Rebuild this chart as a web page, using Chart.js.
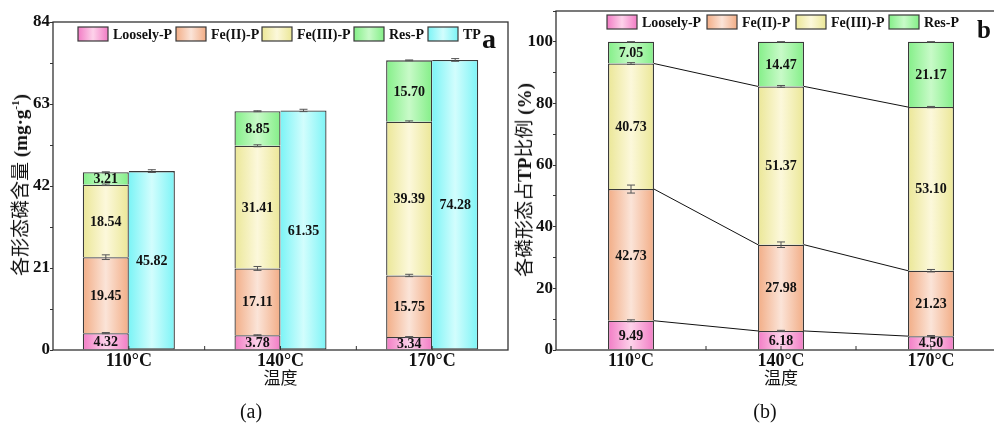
<!DOCTYPE html>
<html>
<head>
<meta charset="utf-8">
<script src="https://cdn.jsdelivr.net/npm/chart.js@4.4.1/dist/chart.umd.min.js"></script>
<style>
  html, body { margin: 0; padding: 0; background: #fff; overflow: hidden; width: 994px; height: 424px; position: relative; }
  canvas { position: absolute; top: 0; }
  #chartContent { left: 0; }
  #chartRatio { left: 500px; }
  .ytitle { position: absolute; transform: translate(-50%, -50%) rotate(-90deg); white-space: nowrap; font-size: 19px; color: #111; line-height: 22px; height: 22px; }
  .cjk { font-family: "Noto Sans CJK SC", sans-serif; font-weight: 400; }
  .ser { font-family: "Liberation Serif", serif; font-weight: 700; }
  .ser sup { font-size: 11px; vertical-align: baseline; position: relative; top: -8px; }
</style>
</head>
<body>
<canvas id="chartContent" width="545" height="424"></canvas>
<canvas id="chartRatio" width="510" height="424"></canvas>
<div class="ytitle" style="left:19px; top:185px;"><span class="cjk">各形态磷含量</span> <span class="ser">(mg·g<sup>-1</sup>)</span></div>
<div class="ytitle" style="left:523px; top:180px;"><span class="cjk">各磷形态占</span><span class="ser">TP</span><span class="cjk">比例</span> <span class="ser">(%)</span></div>
<script>
// ---- data ----
const temps = ['110°C', '140°C', '170°C'];

// phosphorus content by form (mg/g)
const looselyP = [4.32, 3.78, 3.34];
const fe2P = [19.45, 17.11, 15.75];
const fe3P = [18.54, 31.41, 39.39];
const resP = [3.21, 8.85, 15.70];
const totalP = [45.82, 61.35, 74.28];
const looselyErr = [0.15, 0.12, 0.1];
const fe2Err = [0.6, 0.5, 0.3];
const fe3Err = [0.2, 0.25, 0.2];
const resErr = [0.12, 0.12, 0.1];
const totalErr = [0.35, 0.3, 0.35];

// share of each form in TP (%)
const ratioLoosely = [9.49, 6.18, 4.50];
const ratioFe2 = [42.73, 27.98, 21.23];
const ratioFe3 = [40.73, 51.37, 53.10];
const ratioRes = [7.05, 14.47, 21.17];
const ratioLooselyErr = [0.3, 0.2, 0.2];
const ratioFe2Err = [1.3, 0.9, 0.4];
const ratioFe3Err = [0.3, 0.3, 0.2];
const ratioResErr = [0, 0, 0];

const contentTickLabels = [0, 21, 42, 63, 84];
const ratioTickLabels = [0, 20, 40, 60, 80, 100];

// ---- styling ----
const shades = {
  loosely: ['#f27cc5', '#fdd2ea'],
  fe2: ['#f2ad86', '#fbe4d8'],
  fe3: ['#ebe797', '#fcf8db'],
  res: ['#84ef88', '#c8fac8'],
  tp: ['#7cf4f6', '#d2fdfd']
};
const ink = '#333';
const serif = '"Liberation Serif", "Times New Roman", serif';
Chart.defaults.font.family = serif;
Chart.defaults.color = '#111';

function barGradient(ctx, x0, x1, shade) {
  const g = ctx.createLinearGradient(x0, 0, x1, 0);
  g.addColorStop(0, shade[0]);
  g.addColorStop(0.5, shade[1]);
  g.addColorStop(1, shade[0]);
  return g;
}

function segment(label, data, errors, shade, stack, skipped) {
  return {
    label, data, errors, shade, stack,
    backgroundColor: shade[0],
    borderColor: '#3a3a3a',
    borderWidth: 1.3,
    borderSkipped: skipped || 'bottom'
  };
}

// horizontal gradient fill for every bar
const gradientFill = {
  id: 'gradientFill',
  beforeDatasetsDraw(chart) {
    const ctx = chart.ctx;
    chart.data.datasets.forEach((ds, i) => {
      chart.getDatasetMeta(i).data.forEach(el => {
        const half = el.width / 2;
        el.options = Object.assign({}, el.options, {
          backgroundColor: barGradient(ctx, el.x - half, el.x + half, ds.shade)
        });
      });
    });
  }
};

// plot frame and inward category ticks
const frame = {
  id: 'frame',
  afterDatasetsDraw(chart) {
    const { ctx, chartArea: a } = chart;
    const xs = chart.scales.x;
    const n = chart.data.labels.length;
    const step = (a.right - a.left) / n;
    ctx.save();
    ctx.strokeStyle = ink;
    ctx.lineWidth = 1;
    ctx.beginPath();
    for (let i = 0; i < n; i++) {
      const c = xs.getPixelForValue(i);
      ctx.moveTo(c, a.bottom); ctx.lineTo(c, a.bottom - 4);
      if (i > 0) {
        const b = a.left + i * step;
        ctx.moveTo(b, a.bottom); ctx.lineTo(b, a.bottom - 4);
      }
    }
    ctx.stroke();
    ctx.lineWidth = 1.3;
    ctx.strokeRect(a.left, a.top, a.right - a.left, a.bottom - a.top);
    ctx.restore();
  }
};

// connector lines between stacked segment tops (ratio chart)
const connectors = {
  id: 'connectors',
  afterDatasetsDraw(chart, args, opts) {
    if (!opts.enabled) return;
    const ctx = chart.ctx;
    ctx.save();
    ctx.strokeStyle = '#111';
    ctx.lineWidth = 1;
    ctx.beginPath();
    for (let d = 0; d < chart.data.datasets.length - 1; d++) {
      const els = chart.getDatasetMeta(d).data;
      for (let j = 0; j < els.length - 1; j++) {
        const a = els[j], b = els[j + 1];
        ctx.moveTo(a.x + a.width / 2, a.y);
        ctx.lineTo(b.x - b.width / 2, b.y);
      }
    }
    ctx.stroke();
    ctx.restore();
  }
};

// error bars at segment tops, then value labels inside segments
const marks = {
  id: 'marks',
  afterDatasetsDraw(chart) {
    const ctx = chart.ctx;
    const ys = chart.scales.y;
    const unit = Math.abs(ys.getPixelForValue(0) - ys.getPixelForValue(1));
    ctx.save();
    ctx.strokeStyle = '#555';
    ctx.lineWidth = 1;
    chart.data.datasets.forEach((ds, i) => {
      chart.getDatasetMeta(i).data.forEach((el, j) => {
        const e = (ds.errors[j] || 0) * unit;
        const x = el.x, y = el.y;
        ctx.beginPath();
        ctx.moveTo(x - 4, y - e); ctx.lineTo(x + 4, y - e);
        ctx.moveTo(x - 4, y + e); ctx.lineTo(x + 4, y + e);
        ctx.moveTo(x, y - e); ctx.lineTo(x, y + e);
        ctx.stroke();
      });
    });
    ctx.fillStyle = '#111';
    ctx.font = 'bold 14px ' + serif;
    ctx.textAlign = 'center';
    ctx.textBaseline = 'middle';
    chart.data.datasets.forEach((ds, i) => {
      chart.getDatasetMeta(i).data.forEach((el, j) => {
        ctx.fillText(ds.data[j].toFixed(2), el.x, (el.y + el.base) / 2 + 1);
      });
    });
    ctx.restore();
  }
};

// legend row, panel letter and caption
const annotations = {
  id: 'annotations',
  afterDraw(chart, args, o) {
    const ctx = chart.ctx;
    ctx.save();
    ctx.font = 'bold 14px ' + serif;
    ctx.textBaseline = 'middle';
    ctx.textAlign = 'left';
    chart.data.datasets.forEach((ds, k) => {
      const x = o.legendX[k];
      ctx.fillStyle = barGradient(ctx, x, x + 30, ds.shade);
      ctx.fillRect(x, o.legendY, 30, 14);
      ctx.strokeStyle = '#3a3a3a';
      ctx.lineWidth = 1.2;
      ctx.strokeRect(x, o.legendY, 30, 14);
      ctx.fillStyle = '#111';
      ctx.fillText(ds.label, x + 35, o.legendY + 8);
    });
    ctx.textBaseline = 'alphabetic';
    ctx.font = 'bold ' + o.letterSize + 'px ' + serif;
    ctx.fillText(o.letter, o.letterX, o.letterY);
    ctx.font = '20px ' + serif;
    ctx.textAlign = 'center';
    ctx.fillText(o.caption, o.captionX, 418);
    ctx.restore();
  }
};

function makeOptions(cfg) {
  return {
    responsive: false,
    animation: false,
    events: [],
    layout: { padding: { left: 0, top: cfg.top, right: cfg.right, bottom: 0 } },
    plugins: {
      legend: { display: false },
      tooltip: { enabled: false },
      connectors: { enabled: cfg.connectors },
      annotations: cfg.notes
    },
    scales: {
      x: {
        stacked: true,
        grid: { display: false, drawTicks: false },
        border: { display: false },
        ticks: { font: { size: 18, weight: 'bold' }, color: '#111', padding: 1 },
        title: { display: true, text: '温度', font: { family: '"Noto Sans CJK SC"', size: 17 }, color: '#111', padding: { top: 0, bottom: 36 } },
        afterFit(s) { s.height = 74; }
      },
      y: {
        stacked: true,
        min: 0,
        max: cfg.max,
        ticks: {
          stepSize: cfg.step,
          padding: 0,
          font: { size: 17, weight: 'bold' },
          color: '#111',
          callback: v => cfg.labels.some(t => Math.abs(t - v) < 1e-6) ? v : ''
        },
        grid: { display: true, drawOnChartArea: false, drawTicks: true, tickLength: 3, color: ink },
        border: { display: false },
        afterFit(s) { s.width = cfg.axisWidth; }
      }
    }
  };
}

new Chart(document.getElementById('chartContent'), {
  type: 'bar',
  data: {
    labels: temps,
    datasets: [
      segment('Loosely-P', looselyP, looselyErr, shades.loosely, 'forms'),
      segment('Fe(II)-P', fe2P, fe2Err, shades.fe2, 'forms'),
      segment('Fe(III)-P', fe3P, fe3Err, shades.fe3, 'forms'),
      segment('Res-P', resP, resErr, shades.res, 'forms'),
      segment('TP', totalP, totalErr, shades.tp, 'total', 'left')
    ].map(d => Object.assign(d, { barPercentage: 1, categoryPercentage: 0.607 }))
  },
  options: makeOptions({
    top: 22, right: 37, max: 84, step: 10.5, labels: contentTickLabels, axisWidth: 53, connectors: false,
    notes: { legendX: [78, 176, 262, 354, 428], legendY: 27, letter: 'a', letterSize: 28, letterX: 482, letterY: 48, caption: '(a)', captionX: 251 }
  }),
  plugins: [gradientFill, frame, connectors, marks, annotations]
});

new Chart(document.getElementById('chartRatio'), {
  type: 'bar',
  data: {
    labels: temps,
    datasets: [
      segment('Loosely-P', ratioLoosely, ratioLooselyErr, shades.loosely, 'share'),
      segment('Fe(II)-P', ratioFe2, ratioFe2Err, shades.fe2, 'share'),
      segment('Fe(III)-P', ratioFe3, ratioFe3Err, shades.fe3, 'share'),
      segment('Res-P', ratioRes, ratioResErr, shades.res, 'share')
    ].map(d => Object.assign(d, { barPercentage: 1, categoryPercentage: 0.3067 }))
  },
  options: makeOptions({
    top: 11, right: 4, max: 110, step: 10, labels: ratioTickLabels, axisWidth: 56, connectors: true,
    notes: { legendX: [107, 207, 296, 389], legendY: 15, letter: 'b', letterSize: 25, letterX: 477, letterY: 38, caption: '(b)', captionX: 265 }
  }),
  plugins: [gradientFill, frame, connectors, marks, annotations]
});
</script>
</body>
</html>
